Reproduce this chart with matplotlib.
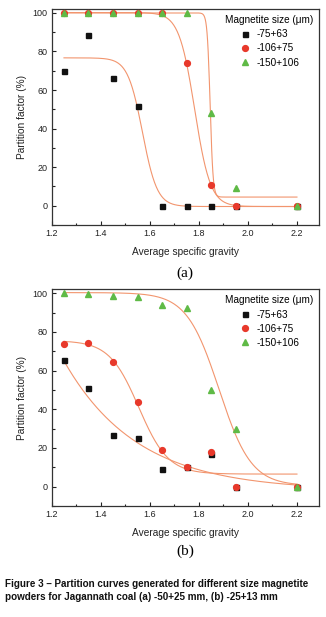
import numpy as np
import matplotlib
matplotlib.use("Agg")
import matplotlib.pyplot as plt
from matplotlib.ticker import MultipleLocator

plt.rcParams["font.family"] = ["Liberation Sans", "DejaVu Sans"]

# specific gravity fractions (x positions of the points)
sg = [1.25, 1.35, 1.45, 1.55, 1.65, 1.75, 1.85, 1.95, 2.2]

# (a) -50+25 mm coal
a_75_63 = [70, 88.5, 66.5, 51.5, 0, 0, 0, 0, 0]
a_106_75 = [100, 100, 100, 100, 100, 74, 11, 0, 0]
a_150_106 = [100, 100, 100, 100, 100, 100, 48, 9, 0]

# (b) -25+13 mm coal
b_75_63 = [65.5, 51, 26.5, 25, 9, 10, 17, 0, 0]
b_106_75 = [73.5, 74, 64.5, 43.5, 19, 10, 18, 0, 0]
b_150_106 = [100, 99.8, 98.5, 98, 94, 92.5, 50, 30, 0]

labels = ["-75+63", "-106+75", "-150+106"]

# fitted curves, Boltzmann params (A1, A2, x0, dx)
a_fits = [(76.7, -0.4, 1.57, 0.03), (100.2, -0.4, 1.783, 0.032), (100, 4.5, 1.846, 0.006)]
b_fit_106 = (75.5, 6.5, 1.555, 0.06)
b_fit_150 = (100.3, 0.5, 1.882, 0.066)
b_fit_75 = (67, -2.0, 0.3)  # exp decay A, y0, t

line_col = "#f2956e"
cols = ["#111111", "#e8392b", "#5fba46"]
marks = ["s", "o", "^"]
msz = [3.6, 4.2, 4.4]


def boltz(x, p):
    A1, A2, x0, dx = p
    return A2 + (A1 - A2) / (1 + np.exp((x - x0) / dx))


def setup(ax):
    ax.set_xlim(1.2, 2.29)
    ax.set_ylim(-10, 102)
    ax.xaxis.set_major_locator(MultipleLocator(0.2))
    ax.xaxis.set_minor_locator(MultipleLocator(0.1))
    ax.yaxis.set_major_locator(MultipleLocator(20))
    ax.yaxis.set_minor_locator(MultipleLocator(10))
    ax.tick_params(which="both", direction="in", labelsize=6.5, colors="#222222", pad=3)
    ax.tick_params(which="major", length=3.2, width=0.8)
    ax.tick_params(which="minor", length=1.8, width=0.8)
    for s in ax.spines.values():
        s.set_linewidth(0.9)
        s.set_color("#333333")
    ax.set_xlabel("Average specific gravity", fontsize=7.3, color="#222222", labelpad=6)
    ax.set_ylabel("Partition factor (%)", fontsize=7.3, color="#222222", labelpad=4)
    ax.legend(loc="upper right", bbox_to_anchor=(1.0, 1.0), frameon=False, fontsize=7.2,
              title="Magnetite size (\u03bcm)", title_fontsize=7.2, handletextpad=0.4,
              labelspacing=0.42, borderaxespad=0.2, handlelength=1.4)


fig = plt.figure(figsize=(3.26, 6.17), dpi=100)
ax1 = fig.add_axes([0.1586, 0.6353, 0.820, 0.350])
ax2 = fig.add_axes([0.1586, 0.1799, 0.820, 0.3512])

xs = np.linspace(1.25, 2.2, 400)

# (a)
for p in a_fits:
    ax1.plot(xs, boltz(xs, p), color=line_col, lw=0.8, zorder=2)
for i, ys in enumerate([a_75_63, a_106_75, a_150_106]):
    ax1.plot(sg, ys, ls="none", marker=marks[i], ms=msz[i], color=cols[i],
             mec=cols[i], label=labels[i], zorder=3 + i)
setup(ax1)

# (b)
ax2.plot(xs, b_fit_75[0] * np.exp(-(xs - 1.25) / b_fit_75[2]) + b_fit_75[1],
         color=line_col, lw=0.8, zorder=2)
ax2.plot(xs, boltz(xs, b_fit_106), color=line_col, lw=0.8, zorder=2)
ax2.plot(xs, boltz(xs, b_fit_150), color=line_col, lw=0.8, zorder=2)
for i, ys in enumerate([b_75_63, b_106_75, b_150_106]):
    ax2.plot(sg, ys, ls="none", marker=marks[i], ms=msz[i], color=cols[i],
             mec=cols[i], label=labels[i], zorder=3 + i)
setup(ax2)

fig.text(0.568, 1 - 273 / 617, "(a)", ha="center", va="center", fontsize=11,
         family="Liberation Serif")
fig.text(0.568, 1 - 551 / 617, "(b)", ha="center", va="center", fontsize=11,
         family="Liberation Serif")

cap = ("Figure 3 \u2013 Partition curves generated for different size magnetite\n"
       "powders for Jagannath coal (a) -50+25 mm, (b) -25+13 mm")
fig.text(0.015, 1 - 579 / 617, cap, ha="left", va="top", fontsize=7.15, fontweight="bold",
         linespacing=1.35, color="#111111")

fig.savefig("out.png", dpi=100)
